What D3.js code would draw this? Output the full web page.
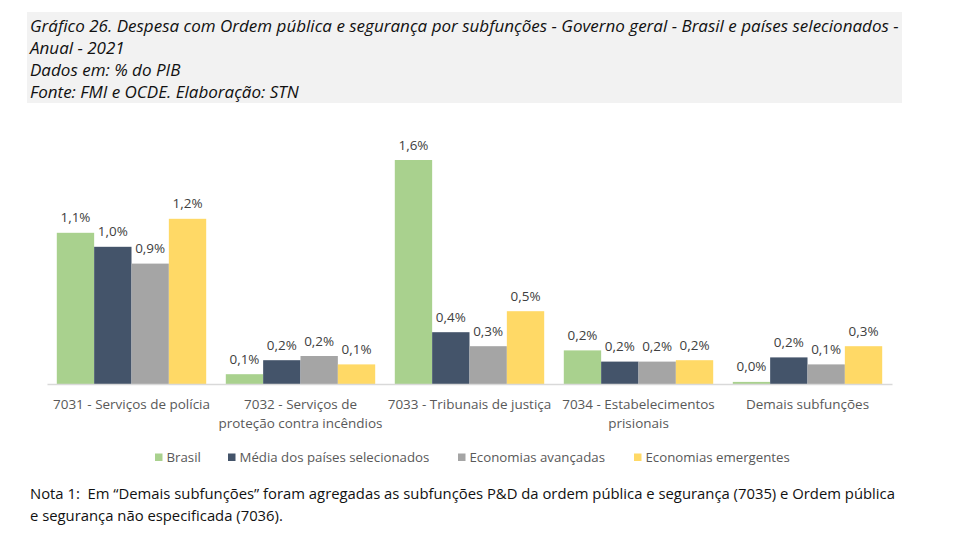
<!DOCTYPE html>
<html><head><meta charset="utf-8">
<script src="https://cdn.jsdelivr.net/npm/d3@7"></script>
<style>
html,body{margin:0;padding:0;background:#fff;}
svg{display:block;}
</style></head>
<body>
<svg id="chart" width="960" height="540"></svg>
<script>
const titleLines = [
  "Gráfico 26. Despesa com Ordem pública e segurança por subfunções - Governo geral - Brasil e países selecionados -",
  "Anual - 2021",
  "Dados em: % do PIB",
  "Fonte: FMI e OCDE. Elaboração: STN"
];
const noteLines = [
  "Nota 1:  Em “Demais subfunções” foram agregadas as subfunções P&D da ordem pública e segurança (7035) e Ordem pública",
  "e segurança não especificada (7036)."
];
const categories = [
  ["7031 - Serviços de polícia"],
  ["7032 - Serviços de", "proteção contra incêndios"],
  ["7033 - Tribunais de justiça"],
  ["7034 - Estabelecimentos", "prisionais"],
  ["Demais subfunções"]
];
const seriesNames = ["Brasil", "Média dos países selecionados", "Economias avançadas", "Economias emergentes"];
const seriesColors = ["#a9d18e", "#44546a", "#a5a5a5", "#ffd966"];
const brasil      = [1.08, 0.07, 1.60, 0.24, 0.015];
const media       = [0.98, 0.17, 0.37, 0.16, 0.19];
const avancadas   = [0.86, 0.20, 0.27, 0.16, 0.14];
const emergentes  = [1.18, 0.14, 0.52, 0.17, 0.27];
const seriesValues = [brasil, media, avancadas, emergentes];

const svg = d3.select("#chart");
const FONT = "'Open Sans', 'Noto Sans', sans-serif";

function fitWidth(sel, target) {
  const node = sel.node();
  const fs = parseFloat(sel.attr("font-size"));
  const w = node.getComputedTextLength();
  const nfs = fs * target / w;
  sel.attr("font-size", nfs);
  return nfs;
}

// Header
svg.append("rect").attr("x", 27).attr("y", 12).attr("width", 875).attr("height", 91).attr("fill", "#f2f2f2");
const tl = svg.append("text").attr("x", 30).attr("y", 31.5).attr("font-family", FONT).attr("font-style", "italic")
  .attr("font-size", 16).attr("fill", "#111").text(titleLines[0]);
const tfs = fitWidth(tl, 869);
titleLines.slice(1).forEach((t, i) => {
  svg.append("text").attr("x", 30).attr("y", 31.5 + 22.2 * (i + 1)).attr("font-family", FONT)
    .attr("font-style", "italic").attr("font-size", tfs).attr("fill", "#111").text(t);
});

// Chart
const x0 = 47, x1 = 892, yBase = 384;
const x = d3.scaleBand().domain(d3.range(categories.length)).range([x0, x1]).paddingInner(0.116).paddingOuter(0.058);
const xs = d3.scaleBand().domain(d3.range(seriesNames.length)).range([0, x.bandwidth()]);
const y = d3.scaleLinear().domain([0, 1.6]).range([yBase, 160]);

const fmt = d => d3.format(".1f")(d).replace(".", ",") + "%";
const dlProbe = svg.append("text").attr("font-family", FONT).attr("font-size", 13).text(fmt(1.6));
const dfs = fitWidth(dlProbe, 30);
dlProbe.remove();

const g = svg.append("g");
seriesValues.forEach((vals, si) => {
  g.selectAll(".b" + si).data(vals).join("rect")
    .attr("x", (d, i) => x(i) + xs(si))
    .attr("y", d => y(d))
    .attr("width", xs.bandwidth())
    .attr("height", d => yBase - y(d))
    .attr("fill", seriesColors[si]);
  g.selectAll(".l" + si).data(vals).join("text")
    .attr("x", (d, i) => x(i) + xs(si) + xs.bandwidth() / 2)
    .attr("y", d => y(d) - 10.5)
    .attr("text-anchor", "middle")
    .attr("font-family", FONT).attr("font-size", dfs).attr("fill", "#404040")
    .text(fmt);
});

// axis line
const xAxis = d3.axisBottom(x).tickSize(0).tickFormat("");
const ax = svg.append("g").attr("transform", `translate(0,${yBase})`).call(xAxis);
ax.select(".domain").attr("stroke", "#d9d9d9").attr("stroke-width", 1.3);

// category labels
const catProbe = svg.append("text").attr("font-family", FONT).attr("font-size", 13).text(categories[0][0]);
const cfs = fitWidth(catProbe, 157);
catProbe.remove();
categories.forEach((lines, i) => {
  lines.forEach((t, j) => {
    svg.append("text").attr("x", x(i) + x.bandwidth() / 2).attr("y", 409 + 18.7 * j)
      .attr("text-anchor", "middle").attr("font-family", FONT).attr("font-size", cfs)
      .attr("fill", "#595959").text(t);
  });
});

// legend
const legendX = [155, 228, 458, 634];
const legProbe = svg.append("text").attr("font-family", FONT).attr("font-size", 13).text(seriesNames[1]);
const lfs = fitWidth(legProbe, 190);
legProbe.remove();
seriesNames.forEach((n, i) => {
  svg.append("rect").attr("x", legendX[i]).attr("y", 453.5).attr("width", 7.5).attr("height", 7.5).attr("fill", seriesColors[i]);
  svg.append("text").attr("x", legendX[i] + 11.5).attr("y", 462).attr("font-family", FONT).attr("font-size", lfs)
    .attr("fill", "#595959").text(n);
});

// note
const nl = svg.append("text").attr("x", 30).attr("y", 498.5).attr("font-family", FONT).attr("font-size", 14)
  .style("white-space", "pre").attr("fill", "#111").text(noteLines[0]);
const nfs = fitWidth(nl, 866);
svg.append("text").attr("x", 30).attr("y", 520.5).attr("font-family", FONT).attr("font-size", nfs)
  .attr("fill", "#111").text(noteLines[1]);
</script>
</body></html>
